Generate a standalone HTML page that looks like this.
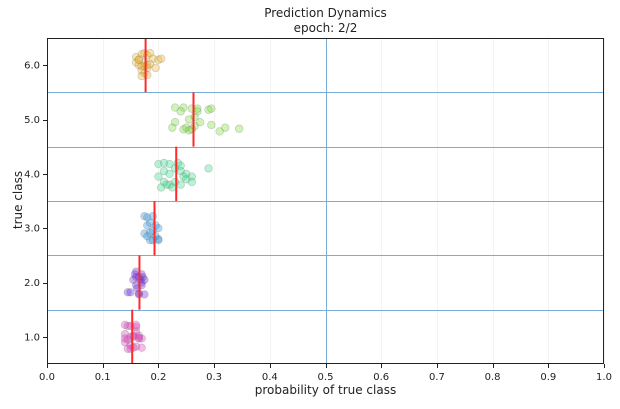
<!DOCTYPE html>
<html><head><meta charset="utf-8"><style>
body{margin:0;background:#fff;font-family:"DejaVu Sans","Liberation Sans",sans-serif}
</style></head><body>
<svg id="chart" width="620" height="405" xmlns="http://www.w3.org/2000/svg" font-family="DejaVu Sans, Liberation Sans, sans-serif"></svg>
<script>
const classes=[1,2,3,4,5,6];
const means=[0.153,0.166,0.193,0.232,0.263,0.177];
const colors=["#e63cc0","#6a22e0","#2a92e0","#30e088","#72e032","#f0b424"];
const xTicks=[0,0.1,0.2,0.3,0.4,0.5,0.6,0.7,0.8,0.9,1.0];
const yTicks=[1,2,3,4,5,6];
const px1=[0.14,0.15,0.16,0.14,0.155,0.165,0.145,0.16,0.17,0.15,0.14,0.16,0.155,0.165,0.145,0.15,0.17,0.16,0.14,0.15,0.155,0.165,0.145];
const py1=[1.22,1.2,1.18,1.05,1.0,0.98,0.95,0.82,0.8,0.78,0.9,1.1,1.02,0.97,1.2,0.85,0.97,1.22,0.97,1.0,0.8,1.02,0.78];
const px2=[0.16,0.17,0.165,0.175,0.155,0.16,0.17,0.15,0.165,0.175,0.145,0.16,0.17,0.165,0.158,0.172,0.162,0.168];
const py2=[2.2,2.15,2.1,2.05,2.05,1.95,1.95,1.82,1.8,1.78,1.82,2.1,2.0,1.78,2.15,2.1,1.9,2.05];
const px3=[0.175,0.18,0.19,0.185,0.18,0.195,0.2,0.19,0.185,0.195,0.2,0.18,0.19,0.2,0.175,0.185];
const py3=[3.22,3.2,3.22,3.1,3.05,3.05,3.0,2.95,2.92,2.85,2.8,2.85,2.78,2.78,2.9,2.78];
const px4=[0.2,0.21,0.22,0.23,0.24,0.21,0.22,0.24,0.25,0.26,0.29,0.2,0.21,0.22,0.23,0.24,0.25,0.26,0.205,0.215,0.225,0.235,0.245];
const py4=[4.18,4.2,4.18,4.1,4.15,4.05,4.0,4.05,4.0,3.95,4.1,3.95,3.85,3.8,3.85,3.8,3.9,3.85,3.75,3.8,3.75,4.2,3.95];
const px5=[0.23,0.245,0.26,0.27,0.29,0.295,0.265,0.255,0.23,0.225,0.245,0.25,0.255,0.26,0.265,0.275,0.31,0.32,0.345,0.295,0.24,0.27];
const py5=[5.22,5.22,5.2,5.15,5.18,5.2,5.05,5.0,4.95,4.85,4.82,4.85,4.8,4.82,4.88,4.95,4.78,4.85,4.83,4.9,5.15,5.2];
const px6=[0.16,0.165,0.17,0.175,0.18,0.185,0.19,0.2,0.205,0.16,0.165,0.17,0.175,0.18,0.185,0.195,0.17,0.175,0.18,0.17,0.175,0.18,0.165];
const py6=[6.15,6.1,6.2,6.22,6.18,6.22,6.12,6.1,6.12,6.05,6.0,5.98,6.05,5.95,6.02,5.95,5.9,5.85,5.82,5.8,5.98,6.0,6.1];
const pxs=[px1,px2,px3,px4,px5,px6], pys=[py1,py2,py3,py4,py5,py6];

const L=47,R=604,T=38,B=364;
const xs=v=>L+(R-L)*v;
const ys=v=>B-(B-T)*(v-0.5)/6;
const snap=v=>Math.round(v)+0.5;
const svg=document.getElementById('chart');
const NS="http://www.w3.org/2000/svg";
function mk(tag,attrs,parent){const e=document.createElementNS(NS,tag);for(const k in attrs)e.setAttribute(k,attrs[k]);(parent||svg).appendChild(e);return e;}

xTicks.forEach((t,i)=>{const g=mk('line',{x1:snap(xs(t)),x2:snap(xs(t)),y1:T,y2:B,stroke:'#f3f3f3','stroke-width':1});

});
for(let c=1;c<6;c++){const l=mk('line',{x1:L,x2:R,y1:snap(ys(c+0.5)),y2:snap(ys(c+0.5)),stroke:'#79acd6','stroke-width':1});

}
const vl=mk('line',{x1:snap(xs(0.5)),x2:snap(xs(0.5)),y1:T,y2:B,stroke:'#79acd6','stroke-width':1});



classes.forEach((c,i)=>{pxs[i].forEach((p,j)=>{const pt=mk('circle',{cx:xs(p),cy:ys(pys[i][j]),r:3.8,fill:colors[i],'fill-opacity':0.35,stroke:'#808080','stroke-opacity':0.35,'stroke-width':0.8});

});});
classes.forEach((c,i)=>{const m=mk('line',{x1:xs(means[i]),x2:xs(means[i]),y1:ys(c-0.5),y2:ys(c+0.5),stroke:'#ff2a2a','stroke-width':2});

});

const fr=mk('rect',{x:L+0.5,y:T+0.5,width:R-L-1,height:B-T-1,fill:'none',stroke:'#222','stroke-width':1});



xTicks.forEach(t=>{mk('line',{x1:snap(xs(t)),x2:snap(xs(t)),y1:B,y2:B+4,stroke:'#222'});
const tx=mk('text',{x:xs(t),y:B+16,'text-anchor':'middle','font-size':10,fill:'#222'});tx.textContent=t.toFixed(1);

});
yTicks.forEach(t=>{mk('line',{x1:L-4,x2:L,y1:snap(ys(t)),y2:snap(ys(t)),stroke:'#222'});
const tx=mk('text',{x:L-7,y:ys(t)+3.5,'text-anchor':'end','font-size':10,fill:'#222'});tx.textContent=t.toFixed(1);

});
</script>
<div style="position:absolute;left:0;top:0;width:620px;height:405px;pointer-events:none">
<div style="position:absolute;left:47px;width:557px;top:6px;text-align:center;font-size:12px;line-height:15px;color:#222">Prediction Dynamics<br>epoch: 2/2</div>
<div style="position:absolute;left:47px;width:557px;top:383px;text-align:center;font-size:12px;color:#222">probability of true class</div>
<div style="position:absolute;left:-22px;top:193px;width:80px;text-align:center;font-size:12px;color:#222;transform:rotate(-90deg)">true class</div>
</div>
</body></html>
